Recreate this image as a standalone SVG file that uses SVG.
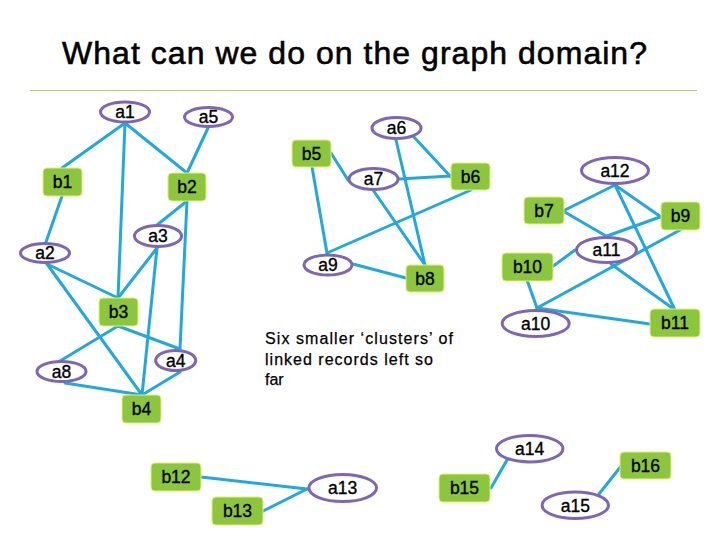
<svg xmlns="http://www.w3.org/2000/svg" width="720" height="540" viewBox="0 0 720 540">
<style>
.e{stroke:#22a8dc;stroke-width:3;fill:none;stroke-linecap:round}
.ov{fill:#ffffff;stroke:#7d67b5;stroke-width:3}
.bx{fill:#8cc63f;stroke:#e4ef72;stroke-width:1}
.t{font-family:"Liberation Sans",Arial,sans-serif;font-size:17.5px;fill:#000;stroke:#000;stroke-width:0.35;text-anchor:middle}
</style>
<rect width="720" height="540" fill="#ffffff"/>
<text x="62" y="64" font-family="Liberation Sans,Arial,sans-serif" font-size="32" textLength="585" lengthAdjust="spacing" fill="#000" stroke="#000" stroke-width="0.6">What can we do on the graph domain?</text>
<line x1="30" y1="90.5" x2="697" y2="90.5" stroke="#b5cc66" stroke-width="1.2"/>
<g id="connectors">
<line class="e" x1="125" y1="123" x2="62" y2="168"/>
<line class="e" x1="125" y1="123" x2="118" y2="298"/>
<line class="e" x1="125" y1="123" x2="187" y2="173"/>
<line class="e" x1="208" y1="128" x2="187" y2="173"/>
<line class="e" x1="62" y1="196" x2="46" y2="242"/>
<line class="e" x1="187" y1="201" x2="157" y2="225"/>
<line class="e" x1="187" y1="201" x2="180" y2="349"/>
<line class="e" x1="157" y1="248" x2="118" y2="298"/>
<line class="e" x1="157" y1="248" x2="142" y2="395"/>
<line class="e" x1="47" y1="264" x2="118" y2="298"/>
<line class="e" x1="47" y1="264" x2="142" y2="395"/>
<line class="e" x1="118" y1="326" x2="60" y2="361"/>
<line class="e" x1="118" y1="326" x2="180" y2="349"/>
<line class="e" x1="65" y1="383" x2="142" y2="395"/>
<line class="e" x1="180" y1="372" x2="142" y2="395"/>
<line class="e" x1="331" y1="153" x2="348" y2="180"/>
<line class="e" x1="312" y1="167" x2="327" y2="253"/>
<line class="e" x1="396" y1="140" x2="425" y2="265"/>
<line class="e" x1="413" y1="136" x2="451" y2="177"/>
<line class="e" x1="399" y1="179" x2="451" y2="176"/>
<line class="e" x1="373" y1="190" x2="425" y2="265"/>
<line class="e" x1="471" y1="190" x2="327" y2="253"/>
<line class="e" x1="353" y1="264" x2="406" y2="278"/>
<line class="e" x1="615" y1="185" x2="563" y2="211"/>
<line class="e" x1="615" y1="185" x2="661" y2="217"/>
<line class="e" x1="615" y1="185" x2="675" y2="310"/>
<line class="e" x1="563" y1="211" x2="606" y2="236"/>
<line class="e" x1="611" y1="264" x2="675" y2="310"/>
<line class="e" x1="660" y1="217" x2="607" y2="236"/>
<line class="e" x1="680" y1="230" x2="537" y2="308"/>
<line class="e" x1="552" y1="267" x2="575" y2="250"/>
<line class="e" x1="527" y1="280" x2="537" y2="308"/>
<line class="e" x1="537" y1="308" x2="650" y2="324"/>
<line class="e" x1="201" y1="477" x2="307" y2="489"/>
<line class="e" x1="263" y1="511" x2="307" y2="489"/>
<line class="e" x1="507" y1="460" x2="491" y2="488"/>
<line class="e" x1="622" y1="465" x2="599" y2="494"/>
</g>
<g id="a1"><ellipse class="ov" cx="125" cy="112" rx="24.5" ry="10"/><text class="t" x="125" y="118">a1</text></g>
<g id="a5"><ellipse class="ov" cx="208.5" cy="117" rx="24" ry="9.5"/><text class="t" x="208.5" y="123">a5</text></g>
<g id="a6"><ellipse class="ov" cx="396.5" cy="128" rx="24.5" ry="10.5"/><text class="t" x="396.5" y="134">a6</text></g>
<g id="a7"><ellipse class="ov" cx="373.5" cy="179" rx="24.5" ry="10.5"/><text class="t" x="373.5" y="185">a7</text></g>
<g id="a12"><ellipse class="ov" cx="615" cy="170.5" rx="33.5" ry="13"/><text class="t" x="615" y="177">a12</text></g>
<g id="a3"><ellipse class="ov" cx="158" cy="236" rx="23.5" ry="10.5"/><text class="t" x="158" y="242">a3</text></g>
<g id="a2"><ellipse class="ov" cx="45" cy="253" rx="24.5" ry="9.5"/><text class="t" x="45" y="259">a2</text></g>
<g id="a9"><ellipse class="ov" cx="328" cy="265" rx="24" ry="10"/><text class="t" x="328" y="271">a9</text></g>
<g id="a11"><ellipse class="ov" cx="606.5" cy="250" rx="30" ry="12.5"/><text class="t" x="606.5" y="256">a11</text></g>
<g id="a10"><ellipse class="ov" cx="535.7" cy="323.5" rx="33.5" ry="13"/><text class="t" x="535.7" y="330">a10</text></g>
<g id="a4"><ellipse class="ov" cx="175.7" cy="360.5" rx="20" ry="10"/><text class="t" x="175.7" y="366.5">a4</text></g>
<g id="a8"><ellipse class="ov" cx="61.5" cy="371.5" rx="24.5" ry="10"/><text class="t" x="61.5" y="377.5">a8</text></g>
<g id="a14"><ellipse class="ov" cx="529.7" cy="448.7" rx="33.2" ry="13.2"/><text class="t" x="529.7" y="455">a14</text></g>
<g id="a13"><ellipse class="ov" cx="342.7" cy="488" rx="33.8" ry="13.5"/><text class="t" x="342.7" y="494">a13</text></g>
<g id="a15"><ellipse class="ov" cx="575.3" cy="505.3" rx="33.2" ry="13.2"/><text class="t" x="575.3" y="511.5">a15</text></g>
<g id="b1"><rect class="bx" x="43" y="168" width="39" height="28" rx="4"/><text class="t" x="62.5" y="188">b1</text></g>
<g id="b2"><rect class="bx" x="168" y="173" width="38" height="28" rx="4"/><text class="t" x="187" y="193">b2</text></g>
<g id="b5"><rect class="bx" x="292" y="140" width="39" height="27" rx="4"/><text class="t" x="311.5" y="159.5">b5</text></g>
<g id="b6"><rect class="bx" x="451" y="163" width="39" height="27" rx="4"/><text class="t" x="470.5" y="182.5">b6</text></g>
<g id="b7"><rect class="bx" x="524" y="197" width="40" height="27" rx="4"/><text class="t" x="544" y="216.5">b7</text></g>
<g id="b9"><rect class="bx" x="661" y="202" width="39" height="28" rx="4"/><text class="t" x="680.5" y="222">b9</text></g>
<g id="b10"><rect class="bx" x="502" y="253" width="51" height="28" rx="4"/><text class="t" x="527.5" y="273">b10</text></g>
<g id="b8"><rect class="bx" x="406" y="265" width="38" height="27" rx="4"/><text class="t" x="425" y="284.5">b8</text></g>
<g id="b11"><rect class="bx" x="650" y="309" width="50" height="28" rx="4"/><text class="t" x="675" y="329">b11</text></g>
<g id="b3"><rect class="bx" x="99" y="298" width="39" height="28" rx="4"/><text class="t" x="118.5" y="318">b3</text></g>
<g id="b4"><rect class="bx" x="122" y="395" width="39" height="28" rx="4"/><text class="t" x="141.5" y="415">b4</text></g>
<g id="b12"><rect class="bx" x="151" y="463" width="50" height="28" rx="4"/><text class="t" x="176" y="483">b12</text></g>
<g id="b13"><rect class="bx" x="212" y="497" width="51" height="28" rx="4"/><text class="t" x="237.5" y="517">b13</text></g>
<g id="b15"><rect class="bx" x="439" y="474" width="51" height="28" rx="4"/><text class="t" x="464.5" y="494">b15</text></g>
<g id="b16"><rect class="bx" x="620" y="452" width="51" height="27" rx="4"/><text class="t" x="645.5" y="471.5">b16</text></g>
<g id="note" font-family="Liberation Sans,Arial,sans-serif" font-size="16" fill="#000" stroke="#000" stroke-width="0.25">
<text x="265" y="344" textLength="188" lengthAdjust="spacing">Six smaller ‘clusters’ of</text>
<text x="265" y="364.5" textLength="168" lengthAdjust="spacing">linked records left so</text>
<text x="265" y="385">far</text>
</g>
</svg>
